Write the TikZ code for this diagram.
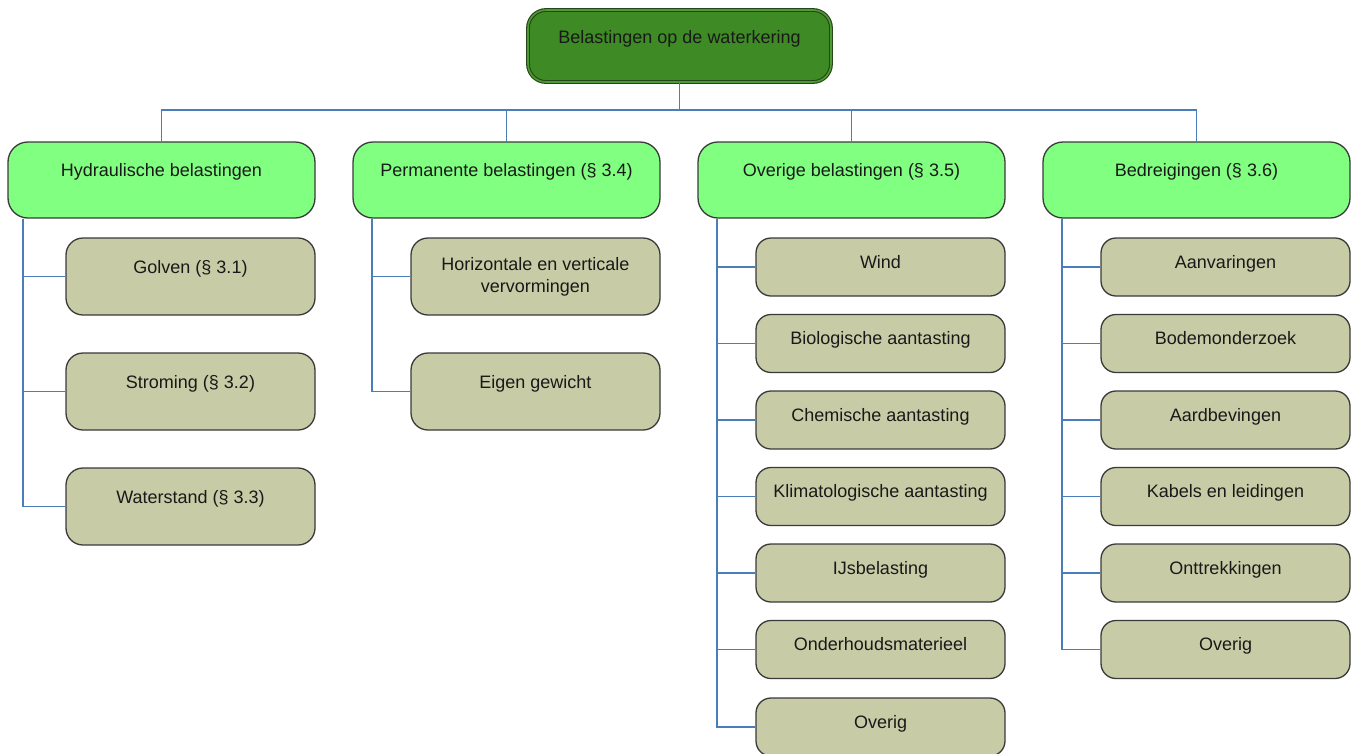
\documentclass[tikz,border=0pt]{standalone}
\usepackage{fontspec}
\setmainfont{Liberation Sans}
\definecolor{topfill}{HTML}{3E8A24}
\definecolor{topline}{HTML}{24461A}
\definecolor{topmid}{HTML}{4F9A33}
\definecolor{lgreen}{HTML}{80FF80}
\definecolor{khaki}{HTML}{C8CCA6}
\definecolor{boxline}{HTML}{3A3A3A}
\definecolor{conncol}{HTML}{4A7EBB}
\begin{document}
\begin{tikzpicture}[x=1pt,y=-1pt,
  box/.style={draw=boxline, line width=1.3pt, inner sep=0pt, align=center,
    font=\fontsize{18}{22}\selectfont, text=black!90},
  topbox/.style={box, draw=topline, double=topmid, double distance=1.6pt, line width=1.1pt,
    fill=topfill, minimum width=303pt, minimum height=72pt, rounded corners=18pt,
    text height=13pt, text depth=19pt},
  lvltwo/.style={box, fill=lgreen, minimum width=307pt, minimum height=76pt,
    rounded corners=20pt, text height=13pt, text depth=20pt},
  lvlthree/.style={box, fill=khaki, minimum width=249pt, minimum height=77pt,
    rounded corners=17pt, text height=13pt, text depth=19pt},
  lvlthreetwo/.style={box, fill=khaki, minimum width=249pt, minimum height=77pt,
    rounded corners=17pt},
  lvlsmall/.style={box, fill=khaki, minimum width=249pt, minimum height=58pt,
    rounded corners=15pt, text height=13pt, text depth=11pt},
  conn/.style={draw=conncol, line width=1.8pt}]
\useasboundingbox (0,0) rectangle (1358,753);

% top
\node[topbox] (top) at (679.5,46) {Belastingen op de waterkering};

% level 2
\node[lvltwo] (h) at (161.5,180) {Hydraulische belastingen};
\node[lvltwo] (p) at (506.5,180) {Permanente belastingen (§ 3.4)};
\node[lvltwo] (o) at (851.5,180) {Overige belastingen (§ 3.5)};
\node[lvltwo] (b) at (1196.5,180) {Bedreigingen (§ 3.6)};

% column 1
\node[lvlthree] (h1) at (190.5,276.5) {Golven (§ 3.1)};
\node[lvlthree] (h2) at (190.5,391.5) {Stroming (§ 3.2)};
\node[lvlthree] (h3) at (190.5,506.5) {Waterstand (§ 3.3)};

% column 2
\node[lvlthreetwo] (p1) at (535.5,276.5) {Horizontale en verticale\\vervormingen};
\node[lvlthree] (p2) at (535.5,391.5) {Eigen gewicht};

% column 3
\node[lvlsmall] (o1) at (880.5,267) {Wind};
\node[lvlsmall] (o2) at (880.5,343.5) {Biologische aantasting};
\node[lvlsmall] (o3) at (880.5,420) {Chemische aantasting};
\node[lvlsmall] (o4) at (880.5,496.5) {Klimatologische aantasting};
\node[lvlsmall] (o5) at (880.5,573) {IJsbelasting};
\node[lvlsmall] (o6) at (880.5,649.5) {Onderhoudsmaterieel};
\node[lvlsmall] (o7) at (880.5,727) {Overig};

% column 4
\node[lvlsmall] (b1) at (1225.5,267) {Aanvaringen};
\node[lvlsmall] (b2) at (1225.5,343.5) {Bodemonderzoek};
\node[lvlsmall] (b3) at (1225.5,420) {Aardbevingen};
\node[lvlsmall] (b4) at (1225.5,496.5) {Kabels en leidingen};
\node[lvlsmall] (b5) at (1225.5,573) {Onttrekkingen};
\node[lvlsmall] (b6) at (1225.5,649.5) {Overig};

% bus
\coordinate (bus) at (679.5,110);
\draw[conn] (top.south) -- (bus);
\draw[conn] (bus) -| (h.north);
\draw[conn] (bus) -| (p.north);
\draw[conn] (bus) -| (o.north);
\draw[conn] (bus) -| (b.north);

% children connectors
\foreach \c in {h1,h2,h3}
  \draw[conn] ([xshift=16pt]h.south west) |- (\c.west);
\foreach \c in {p1,p2}
  \draw[conn] ([xshift=20pt]p.south west) |- (\c.west);
\foreach \c in {o1,o2,o3,o4,o5,o6,o7}
  \draw[conn] ([xshift=20pt]o.south west) |- (\c.west);
\foreach \c in {b1,b2,b3,b4,b5,b6}
  \draw[conn] ([xshift=20pt]b.south west) |- (\c.west);
\end{tikzpicture}
\end{document}
